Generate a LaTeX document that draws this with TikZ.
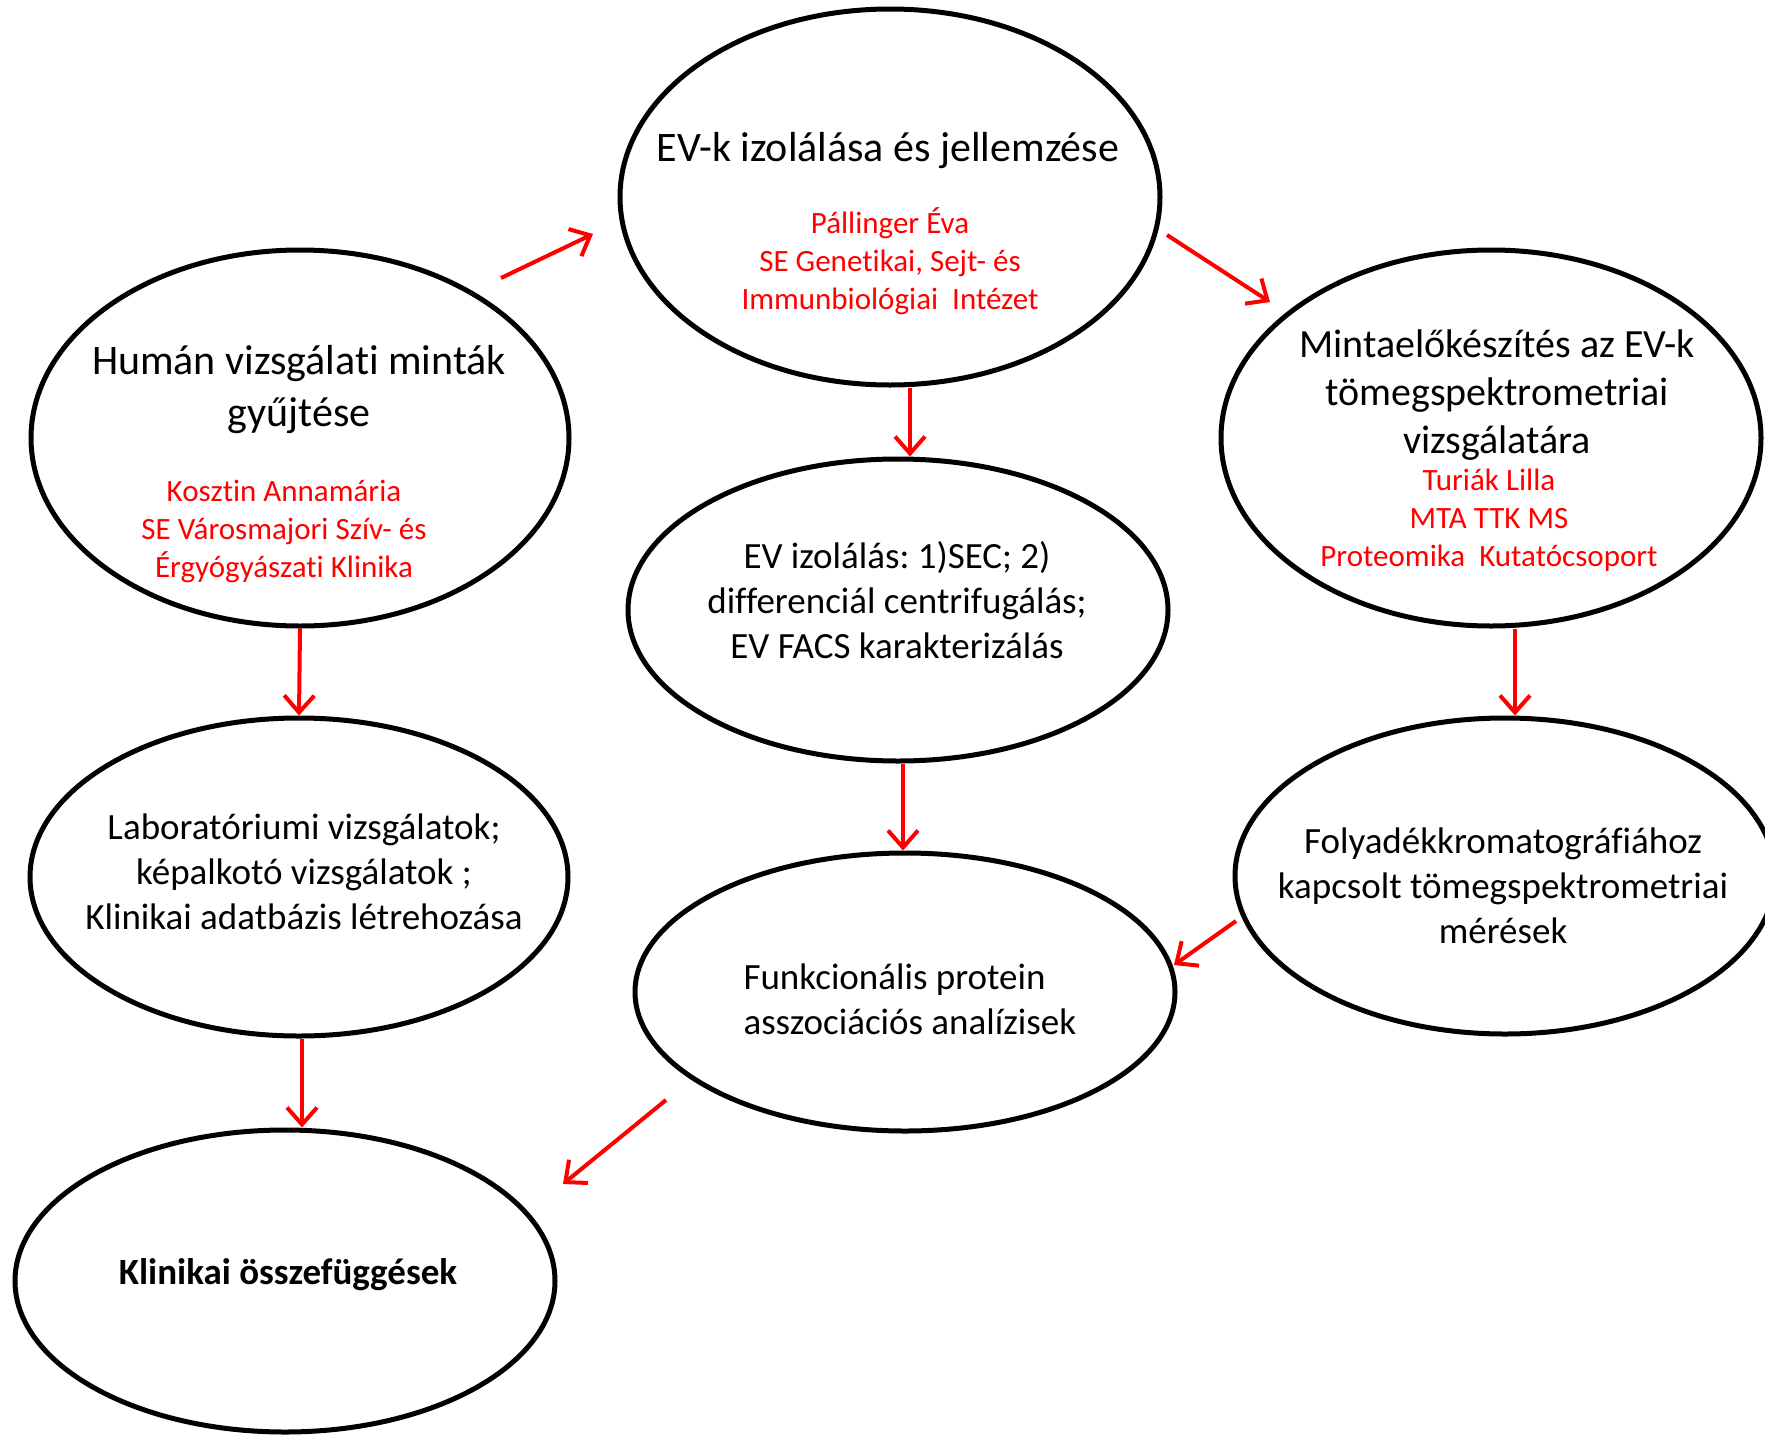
\documentclass[tikz,border=0pt]{standalone}
\usepackage{fontspec}
\setmainfont{Carlito}[RawFeature={-liga}]
\usetikzlibrary{shapes.geometric,arrows.meta}
\frenchspacing
\begin{document}
\begin{tikzpicture}[x=1pt,y=-1pt,
  ell/.style={draw=black, ellipse, line width=5pt, inner sep=0pt},
  arr/.style={draw=red, line width=4pt, -{Straight Barb[length=17pt,width=30pt,line width=4pt]}},
  big/.style={align=center, font=\fontsize{42}{52}\selectfont},
  mid/.style={align=center, font=\fontsize{40}{48}\selectfont},
  txt/.style={align=center, font=\fontsize{37}{45}\selectfont},
  red/.style={align=center, text=red, font=\fontsize{31}{38}\selectfont}]
\clip (0,0) rectangle (1765,1440);
\fill[white] (0,0) rectangle (1765,1440);
% ellipses
\node[ell, minimum width=540, minimum height=376] (e1) at (890,197) {};
\node[ell, minimum width=538, minimum height=376] (e2) at (300,438) {};
\node[ell, minimum width=540, minimum height=376] (e3) at (1491,438) {};
\node[ell, minimum width=540, minimum height=302] (e4) at (898,610) {};
\node[ell, minimum width=538, minimum height=318] (e5) at (299,877) {};
\node[ell, minimum width=540, minimum height=316] (e6) at (1505,876) {};
\node[ell, minimum width=540, minimum height=278] (e7) at (905,992) {};
\node[ell, minimum width=540, minimum height=302] (e8) at (285,1281) {};
% texts
\node[big] (t1) at (888,151) {EV-k izolálása és jellemzése};
\node[red] (r1) at (890,261) {Pállinger Éva\\SE Genetikai, Sejt- és\\Immunbiológiai\ \ Intézet};
\node[big] (t2) at (299,390) {Humán vizsgálati minták\\gyűjtése};
\node[red] (r2) at (284,531) {Kosztin Annamária\\SE Városmajori Szív- és\\Érgyógyászati Klinika};
\node[mid] (t3) at (1497,395) {Mintaelőkészítés az EV-k\\tömegspektrometriai\\vizsgálatára};
\node[red] (r3) at (1489,520) {Turiák Lilla\\MTA TTK MS\\Proteomika\ \ Kutatócsoport};
\node[txt] (t4) at (897,600) {EV izolálás: 1)SEC; 2)\\differenciál centrifugálás;\\EV FACS karakterizálás};
\node[txt] (t5) at (304,872) {Laboratóriumi vizsgálatok;\\képalkotó vizsgálatok ;\\Klinikai adatbázis létrehozása};
\node[txt] (t6) at (1503,886) {Folyadékkromatográfiához\\kapcsolt tömegspektrometriai\\mérések};
\node[txt, align=left, anchor=west] (t7) at (740,999) {Funkcionális protein\\asszociációs analízisek};
\node[txt, font=\fontsize{37}{45}\selectfont\bfseries] (t8) at (288,1275) {Klinikai összefüggések};
% free arrow ends
\coordinate (a1) at (501,278);
\coordinate (a2) at (593,234);
\coordinate (b1) at (1167,235);
\coordinate (b2) at (1270,302);
\coordinate (g1) at (1236,921);
\coordinate (g2) at (1174,965);
\coordinate (i1) at (666,1100);
\coordinate (i2) at (563,1184);
% arrows
\draw[arr] (a1) -- (a2);
\draw[arr] (b1) -- (b2);
\draw[arr] ([xshift=20pt]e1.south) -- ([xshift=12pt]e4.north);
\draw[arr] (e2.south) -- (e5.north);
\draw[arr] ([xshift=24pt]e3.south) -- ([xshift=10pt]e6.north);
\draw[arr] ([xshift=5pt]e4.south) -- ([xshift=-2pt]e7.north);
\draw[arr] (g1) -- (g2);
\draw[arr] ([xshift=3pt]e5.south) -- ([xshift=17pt]e8.north);
\draw[arr] (i1) -- (i2);
\end{tikzpicture}
\end{document}
